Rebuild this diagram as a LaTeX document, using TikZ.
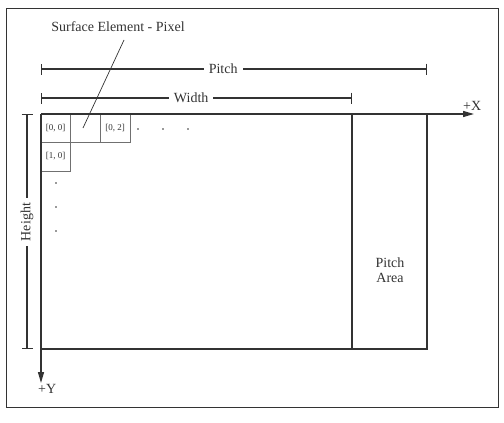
\documentclass[tikz,border=0pt]{standalone}
\usepackage{fontspec}
\setmainfont{Liberation Serif}
\usetikzlibrary{arrows.meta}
\definecolor{ink}{HTML}{333333}
\tikzset{
  dimline/.style={draw=ink, line width=1.2pt, {Bar[width=11pt]}-{Bar[width=11pt]}},
  axisline/.style={draw=ink, line width=1.3pt, -{Triangle[length=11pt,width=6pt]}},
  edge/.style={draw=ink, line width=1.3pt},
  cell/.style={draw=ink!70, line width=0.7pt},
  celltxt/.style={font=\fontsize{9}{10}\selectfont, text=ink, inner sep=0pt},
  lbl/.style={font=\fontsize{14}{15}\selectfont, text=ink, inner sep=1pt},
  gap/.style={fill=white, inner xsep=5pt},
  dot/.style={circle, fill=ink, inner sep=0pt, minimum size=1.8pt}
}
\begin{document}
\begin{tikzpicture}[x=1pt,y=-1pt]
\useasboundingbox (0,0) rectangle (504,423);
\draw[draw=ink, line width=1pt] (6,8) rectangle (498,407);
% key coordinates
\coordinate (O) at (41,114);
\coordinate (Xend) at (474,114);
\coordinate (Yend) at (41,383);
\coordinate (BL) at (41,349);
\coordinate (WT) at (352,114);
\coordinate (WB) at (352,349);
\coordinate (PT) at (427,114);
\coordinate (PB) at (427,349);
% cells
\draw[cell] (41,114) rectangle (70,142);
\draw[cell] (70,114) rectangle (100,142);
\draw[cell] (100,114) rectangle (130,142);
\draw[cell] (41,142) rectangle (70,171);
\node[celltxt] (c00) at (55.5,128) {[0, 0]};
\node[celltxt] (c02) at (115,128) {[0, 2]};
\node[celltxt] (c10) at (55.5,156.5) {[1, 0]};
\node[dot] (d1) at (138,129) {};
\node[dot] (d2) at (163,129) {};
\node[dot] (d3) at (188,129) {};
\node[dot] (d4) at (56,183) {};
\node[dot] (d5) at (56,207) {};
\node[dot] (d6) at (56,231) {};
% rectangle
\draw[edge] (BL) -- (PB) -- (PT);
\draw[edge] (WT) -- (WB);
\draw[axisline] (O) -- (Xend);
\draw[axisline] (O) -- (Yend);
\node[lbl, anchor=south west] (xl) at (462,112) {+X};
\node[lbl, anchor=north west] (yl) at (37,383) {+Y};
% dimensions
\coordinate (p1) at (41,69);
\coordinate (p2) at (427,69);
\draw[dimline] (p1) -- node[lbl, gap, pos=0.472] (pitch) {Pitch} (p2);
\coordinate (w1) at (41,98);
\coordinate (w2) at (352,98);
\draw[dimline] (w1) -- node[lbl, gap, pos=0.483] (width) {Width} (w2);
\coordinate (h1) at (27,114);
\coordinate (h2) at (27,349);
\draw[dimline] (h1) -- node[lbl, gap, rotate=90, pos=0.46] (height) {Height} (h2);
% labels
\node[lbl] (se) at (118,27) {Surface Element - Pixel};
\coordinate (sep) at (83,128);
\draw[draw=ink, line width=0.7pt] (124,40) -- (sep);
\node[lbl, align=center] (pa) at (390,270) {Pitch\\Area};
\end{tikzpicture}
\end{document}
